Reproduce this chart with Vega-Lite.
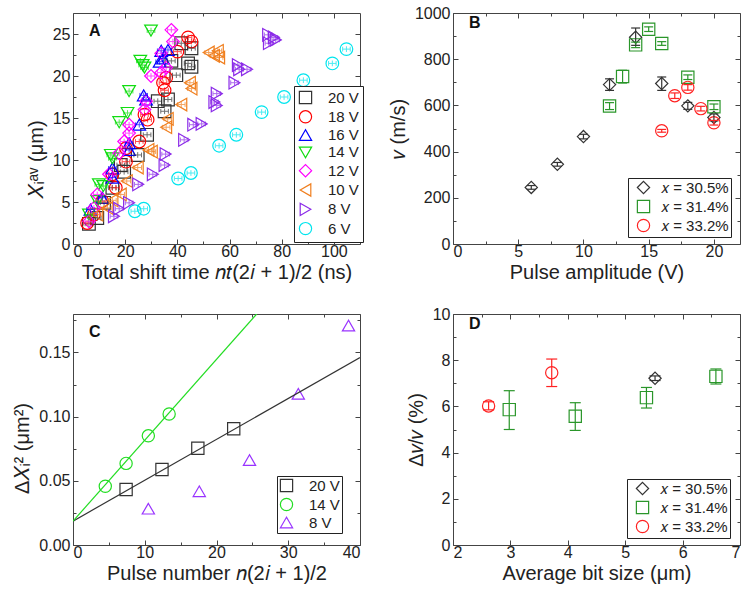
{
 "$schema": "https://vega.github.io/schema/vega-lite/v6.json",
 "background": "white",
 "padding": {"left": 12, "top": 4, "right": 2, "bottom": 2},
 "columns": 2,
 "spacing": {"row": 70, "column": 93},
 "bounds": "flush",
 "resolve": {"scale": {"x": "independent", "y": "independent", "color": "independent", "shape": "independent", "stroke": "independent"}, "legend": {"color": "independent", "shape": "independent"}},
 "config": {
  "font": "Liberation Sans",
  "view": {"stroke": "#444", "strokeWidth": 1},
  "axis": {"grid": false, "domain": false, "tickColor": "#444", "tickWidth": 1, "labelFontSize": 16, "labelColor": "#222", "labelFont": "Liberation Sans", "titleFont": "Liberation Sans", "titleFontSize": 20, "titleFontWeight": "normal", "titleColor": "#222", "labelPadding": 4, "titlePadding": 3},
  "axisLeft": {"labelPadding": 8, "titlePadding": 6},
  "legend": {"orient": "none", "strokeColor": "#222", "fillColor": "white", "padding": 4, "rowPadding": 0.3, "labelFontSize": 15, "labelFont": "Liberation Sans", "labelColor": "#222", "symbolSize": 150, "symbolStrokeWidth": 1.2, "labelOffset": 15, "title": null},
  "title": {"anchor": "start", "frame": "group", "fontSize": 16, "fontWeight": "bold", "font": "Liberation Sans", "offset": -26, "dx": 16, "color": "#111"}
 },
 "datasets": {
  "A": [
   {"V":"20 V","t":41.5,"x":23.9},{"V":"20 V","t":45.4,"x":23.3},{"V":"20 V","t":44.1,"x":21.5},{"V":"20 V","t":45.4,"x":21.1},{"V":"20 V","t":37.7,"x":21.8},{"V":"20 V","t":39.6,"x":20.1},{"V":"20 V","t":32.5,"x":17.0},{"V":"20 V","t":36.4,"x":17.2},{"V":"20 V","t":35.1,"x":15.8},{"V":"20 V","t":28.4,"x":13.0},{"V":"20 V","t":24.8,"x":10.6},{"V":"20 V","t":19.6,"x":8.6},{"V":"20 V","t":18.3,"x":9.4},{"V":"20 V","t":15.1,"x":6.7},{"V":"20 V","t":11.9,"x":4.9},{"V":"20 V","t":9.3,"x":3.1},{"V":"20 V","t":6.1,"x":2.4},
   {"V":"18 V","t":44.1,"x":24.6},{"V":"18 V","t":45.4,"x":24.1},{"V":"18 V","t":40.0,"x":22.9},{"V":"18 V","t":34.5,"x":19.2},{"V":"18 V","t":35.7,"x":19.8},{"V":"18 V","t":35.1,"x":18.3},{"V":"18 V","t":27.4,"x":15.4},{"V":"18 V","t":28.6,"x":14.8},{"V":"18 V","t":25.4,"x":12.2},{"V":"18 V","t":20.3,"x":11.4},{"V":"18 V","t":20.3,"x":9.8},{"V":"18 V","t":15.1,"x":8.3},{"V":"18 V","t":16.4,"x":6.7},{"V":"18 V","t":11.2,"x":5.1},{"V":"18 V","t":8.0,"x":3.5},{"V":"18 V","t":5.4,"x":2.5},
   {"V":"16 V","t":33.8,"x":23.0},{"V":"16 V","t":36.4,"x":23.1},{"V":"16 V","t":33.2,"x":21.7},{"V":"16 V","t":34.5,"x":22.1},{"V":"16 V","t":27.1,"x":17.7},{"V":"16 V","t":28.0,"x":17.2},{"V":"16 V","t":25.4,"x":14.2},{"V":"16 V","t":21.5,"x":12.0},{"V":"16 V","t":21.5,"x":11.2},{"V":"16 V","t":15.1,"x":9.0},{"V":"16 V","t":15.1,"x":7.9},{"V":"16 V","t":11.2,"x":5.5},{"V":"16 V","t":6.7,"x":4.1},
   {"V":"14 V","t":29.9,"x":25.4},{"V":"14 V","t":25.8,"x":21.8},{"V":"14 V","t":26.7,"x":21.3},{"V":"14 V","t":27.4,"x":21.0},{"V":"14 V","t":21.5,"x":18.2},{"V":"14 V","t":20.9,"x":15.6},{"V":"14 V","t":17.7,"x":14.5},{"V":"14 V","t":14.5,"x":10.6},{"V":"14 V","t":15.1,"x":10.2},{"V":"14 V","t":9.9,"x":7.1},{"V":"14 V","t":11.6,"x":6.9},{"V":"14 V","t":9.3,"x":5.1},{"V":"14 V","t":6.1,"x":3.5},
   {"V":"12 V","t":37.7,"x":25.5},{"V":"12 V","t":38.3,"x":24.1},{"V":"12 V","t":33.8,"x":22.7},{"V":"12 V","t":35.7,"x":21.0},{"V":"12 V","t":29.9,"x":20.0},{"V":"12 V","t":33.8,"x":20.4},{"V":"12 V","t":28.0,"x":17.0},{"V":"12 V","t":27.4,"x":16.0},{"V":"12 V","t":21.5,"x":14.2},{"V":"12 V","t":21.5,"x":13.2},{"V":"12 V","t":19.6,"x":12.2},{"V":"12 V","t":17.7,"x":10.8},{"V":"12 V","t":13.8,"x":8.3},{"V":"12 V","t":9.3,"x":5.9},{"V":"12 V","t":8.0,"x":4.3},{"V":"12 V","t":6.1,"x":2.7},
   {"V":"10 V","t":52.0,"x":22.8},{"V":"10 V","t":54.0,"x":22.4},{"V":"10 V","t":55.5,"x":23.0},{"V":"10 V","t":56.0,"x":22.2},{"V":"10 V","t":44.8,"x":19.2},{"V":"10 V","t":45.4,"x":18.5},{"V":"10 V","t":41.5,"x":16.6},{"V":"10 V","t":36.3,"x":14.9},{"V":"10 V","t":35.7,"x":13.9},{"V":"10 V","t":28.9,"x":11.2},{"V":"10 V","t":30.2,"x":11.0},{"V":"10 V","t":24.8,"x":9.1},{"V":"10 V","t":20.6,"x":7.5},{"V":"10 V","t":18.3,"x":5.9},{"V":"10 V","t":15.1,"x":5.2},{"V":"10 V","t":13.2,"x":4.3},{"V":"10 V","t":9.3,"x":3.5},
   {"V":"8 V","t":74.8,"x":24.9},{"V":"8 V","t":77.0,"x":24.6},{"V":"8 V","t":77.7,"x":24.3},{"V":"8 V","t":75.1,"x":23.9},{"V":"8 V","t":63.2,"x":21.3},{"V":"8 V","t":63.7,"x":20.8},{"V":"8 V","t":66.7,"x":20.8},{"V":"8 V","t":61.9,"x":19.2},{"V":"8 V","t":55.1,"x":17.9},{"V":"8 V","t":54.2,"x":16.9},{"V":"8 V","t":55.1,"x":16.5},{"V":"8 V","t":46.1,"x":14.2},{"V":"8 V","t":49.3,"x":14.3},{"V":"8 V","t":42.6,"x":12.4},{"V":"8 V","t":35.5,"x":10.7},{"V":"8 V","t":35.1,"x":9.4},{"V":"8 V","t":30.6,"x":8.3},{"V":"8 V","t":25.0,"x":7.1},{"V":"8 V","t":21.5,"x":4.9},{"V":"8 V","t":17.7,"x":4.2},{"V":"8 V","t":15.7,"x":3.3},
   {"V":"6 V","t":23.7,"x":3.9},{"V":"6 V","t":27.1,"x":4.2},{"V":"6 V","t":40.3,"x":7.8},{"V":"6 V","t":45.2,"x":8.45},{"V":"6 V","t":56.0,"x":11.7},{"V":"6 V","t":62.6,"x":13.0},{"V":"6 V","t":72.3,"x":15.7},{"V":"6 V","t":80.9,"x":17.5},{"V":"6 V","t":88.3,"x":19.5},{"V":"6 V","t":99.4,"x":21.5},{"V":"6 V","t":104.8,"x":23.2}
  ],
  "B": [
   {"s":"𝑥 = 30.5%","U":6,"v":245,"lo":237,"hi":253},{"s":"𝑥 = 30.5%","U":8,"v":345,"lo":337,"hi":353},{"s":"𝑥 = 30.5%","U":10,"v":465,"lo":455,"hi":475},{"s":"𝑥 = 30.5%","U":12,"v":690,"lo":665,"hi":715},{"s":"𝑥 = 30.5%","U":14,"v":895,"lo":860,"hi":935},{"s":"𝑥 = 30.5%","U":16,"v":695,"lo":665,"hi":723},{"s":"𝑥 = 30.5%","U":18,"v":598,"lo":583,"hi":613},{"s":"𝑥 = 30.5%","U":20,"v":548,"lo":533,"hi":563},
   {"s":"𝑥 = 31.4%","U":12,"v":597,"lo":582,"hi":612},{"s":"𝑥 = 31.4%","U":13,"v":725,"lo":697,"hi":752},{"s":"𝑥 = 31.4%","U":14,"v":862,"lo":850,"hi":874},{"s":"𝑥 = 31.4%","U":15,"v":930,"lo":920,"hi":940},{"s":"𝑥 = 31.4%","U":16,"v":868,"lo":860,"hi":876},{"s":"𝑥 = 31.4%","U":18,"v":722,"lo":712,"hi":732},{"s":"𝑥 = 31.4%","U":20,"v":594,"lo":582,"hi":606},
   {"s":"𝑥 = 33.2%","U":16,"v":490,"lo":484,"hi":496},{"s":"𝑥 = 33.2%","U":17,"v":642,"lo":630,"hi":654},{"s":"𝑥 = 33.2%","U":18,"v":678,"lo":666,"hi":690},{"s":"𝑥 = 33.2%","U":19,"v":586,"lo":576,"hi":596},{"s":"𝑥 = 33.2%","U":20,"v":525,"lo":515,"hi":535}
  ],
  "C": [
   {"W":"20 V","n":7.4,"d":0.0432},{"W":"20 V","n":12.4,"d":0.0589},{"W":"20 V","n":17.4,"d":0.0754},{"W":"20 V","n":22.4,"d":0.0906},
   {"W":"14 V","n":4.5,"d":0.0458},{"W":"14 V","n":7.4,"d":0.0636},{"W":"14 V","n":10.5,"d":0.0851},{"W":"14 V","n":13.4,"d":0.1021},
   {"W":"8 V","n":10.5,"d":0.0283},{"W":"8 V","n":17.6,"d":0.0419},{"W":"8 V","n":24.6,"d":0.0662},{"W":"8 V","n":31.4,"d":0.1178},{"W":"8 V","n":38.4,"d":0.171}
  ],
  "Cfit": [
   {"W":"20 V","n":0,"d":0.0186},{"W":"20 V","n":40,"d":0.146},
   {"W":"14 V","n":0,"d":0.0186},{"W":"14 V","n":25.6,"d":0.18}
  ],
  "D": [
   {"s":"𝑥 = 30.5%","b":5.52,"r":7.22,"lo":7.12,"hi":7.32},
   {"s":"𝑥 = 31.4%","b":2.98,"r":5.86,"lo":5.0,"hi":6.68},{"s":"𝑥 = 31.4%","b":4.13,"r":5.57,"lo":4.96,"hi":6.16},{"s":"𝑥 = 31.4%","b":5.37,"r":6.38,"lo":5.93,"hi":6.82},{"s":"𝑥 = 31.4%","b":6.58,"r":7.30,"lo":6.97,"hi":7.62},
   {"s":"𝑥 = 33.2%","b":2.62,"r":6.02,"lo":5.85,"hi":6.2},{"s":"𝑥 = 33.2%","b":3.72,"r":7.46,"lo":6.86,"hi":8.05}
  ]
 },
 "concat": [
  {
   "width": 287, "height": 231,
   "title": {"text": "A"},
   "data": {"name": "A"},
   "resolve": {"axis": {"x": "independent", "y": "independent"}},
   "layer": [
    {
     "mark": {"type": "point", "filled": false, "strokeWidth": 1.2, "size": 160, "opacity": 1},
     "encoding": {
      "x": {"field": "t", "type": "quantitative", "scale": {"domain": [0, 110], "nice": false, "zero": false}, "axis": {"orient": "bottom", "values": [0,10,20,30,40,50,60,70,80,90,100], "format": "d", "labelExpr": "datum.value % 20 === 0 ? datum.label : ''", "tickSize": {"condition": {"test": "datum.value % 20 !== 0", "value": -3}, "value": -5}, "title": "Total shift time 𝑛𝑡(2𝑖 + 1)/2 (ns)"}},
      "y": {"field": "x", "type": "quantitative", "scale": {"domain": [0, 27.5], "nice": false, "zero": false}, "axis": {"orient": "left", "values": [0,2.5,5,7.5,10,12.5,15,17.5,20,22.5,25], "format": "d", "labelExpr": "datum.value % 5 === 0 ? datum.label : ''", "tickSize": {"condition": {"test": "datum.value % 5 !== 0", "value": -3}, "value": -5}, "title": "𝑋ᵢᵃᵛ (μm)", "titleY": 146}},
      "color": {"field": "V", "type": "nominal", "scale": {"domain": ["20 V","18 V","16 V","14 V","12 V","10 V","8 V","6 V"], "range": ["#333333","#ff0000","#0000ff","#11dd11","#ff00ff","#f07f1e","#8b2be8","#00e5ee"]}, "legend": {"legendX": 221, "legendY": 73}},
      "shape": {"field": "V", "type": "nominal", "scale": {"domain": ["20 V","18 V","16 V","14 V","12 V","10 V","8 V","6 V"], "range": ["square","circle","triangle-up","triangle-down","diamond","triangle-left","triangle-right","circle"]}, "legend": {"legendX": 221, "legendY": 73}}
     }
    },
    {
     "mark": {"type": "point", "filled": false, "strokeWidth": 1, "size": 90, "shape": "M-0.8,0H0.8M-0.8,-0.5V0.5M0.8,-0.5V0.5M0,-0.6V0.6"},
     "encoding": {
      "x": {"field": "t", "type": "quantitative", "axis": null},
      "y": {"field": "x", "type": "quantitative", "axis": null},
      "color": {"field": "V", "type": "nominal", "legend": null}
     }
    },
    {
     "mark": {"type": "point", "opacity": 0},
     "encoding": {
      "x": {"field": "t", "type": "quantitative", "axis": {"orient": "top", "values": [0,10,20,30,40,50,60,70,80,90,100], "labels": false, "title": null, "tickSize": {"condition": {"test": "datum.value % 20 !== 0", "value": -3}, "value": -5}}},
      "y": {"field": "x", "type": "quantitative", "axis": {"orient": "right", "values": [0,2.5,5,7.5,10,12.5,15,17.5,20,22.5,25], "labels": false, "title": null, "tickSize": {"condition": {"test": "datum.value % 5 !== 0", "value": -3}, "value": -5}}}
     }
    }
   ]
  },
  {
   "width": 287, "height": 231,
   "title": {"text": "B"},
   "data": {"name": "B"},
   "resolve": {"axis": {"x": "independent", "y": "independent"}},
   "layer": [
    {
     "mark": {"type": "point", "filled": false, "strokeWidth": 1.2, "size": 150, "opacity": 1},
     "encoding": {
      "x": {"field": "U", "type": "quantitative", "scale": {"domain": [0, 22], "nice": false, "zero": false}, "axis": {"orient": "bottom", "values": [0,2.5,5,7.5,10,12.5,15,17.5,20], "format": "d", "labelExpr": "datum.value % 5 === 0 ? datum.label : ''", "tickSize": {"condition": {"test": "datum.value % 5 !== 0", "value": -3}, "value": -5}, "title": "Pulse amplitude (V)"}},
      "y": {"field": "v", "type": "quantitative", "scale": {"domain": [0, 1000], "nice": false, "zero": false}, "axis": {"orient": "left", "values": [0,100,200,300,400,500,600,700,800,900,1000], "format": "d", "labelExpr": "datum.value % 200 === 0 ? datum.label : ''", "tickSize": {"condition": {"test": "datum.value % 200 !== 0", "value": -3}, "value": -5}, "title": "𝑣 (m/s)"}},
      "color": {"field": "s", "type": "nominal", "scale": {"domain": ["𝑥 = 30.5%","𝑥 = 31.4%","𝑥 = 33.2%"], "range": ["#333333","#2a962a","#ff2222"]}, "legend": {"legendX": 175, "legendY": 165, "rowPadding": 0, "padding": 2, "symbolOffset": 6, "labelOffset": 10}},
      "shape": {"field": "s", "type": "nominal", "scale": {"domain": ["𝑥 = 30.5%","𝑥 = 31.4%","𝑥 = 33.2%"], "range": ["diamond","square","circle"]}, "legend": {"legendX": 175, "legendY": 165, "rowPadding": 0, "padding": 2, "symbolOffset": 6, "labelOffset": 10}}
     }
    },
    {
     "mark": {"type": "rule", "strokeWidth": 1.2},
     "encoding": {
      "x": {"field": "U", "type": "quantitative", "axis": null},
      "y": {"field": "lo", "type": "quantitative", "axis": null},
      "y2": {"field": "hi"},
      "stroke": {"field": "s", "type": "nominal", "scale": {"domain": ["𝑥 = 30.5%","𝑥 = 31.4%","𝑥 = 33.2%"], "range": ["#333333","#2a962a","#ff2222"]}, "legend": null}
     }
    },
    {
     "mark": {"type": "point", "filled": false, "shape": "M-1,0H1", "size": 81, "strokeWidth": 1.2, "opacity": 1},
     "encoding": {
      "x": {"field": "U", "type": "quantitative", "axis": null},
      "y": {"field": "lo", "type": "quantitative", "axis": null},
      "stroke": {"field": "s", "type": "nominal", "legend": null}
     }
    },
    {
     "mark": {"type": "point", "filled": false, "shape": "M-1,0H1", "size": 81, "strokeWidth": 1.2, "opacity": 1},
     "encoding": {
      "x": {"field": "U", "type": "quantitative", "axis": null},
      "y": {"field": "hi", "type": "quantitative", "axis": null},
      "stroke": {"field": "s", "type": "nominal", "legend": null}
     }
    },
    {
     "mark": {"type": "point", "opacity": 0},
     "encoding": {
      "x": {"field": "U", "type": "quantitative", "axis": {"orient": "top", "values": [0,2.5,5,7.5,10,12.5,15,17.5,20], "labels": false, "title": null, "tickSize": {"condition": {"test": "datum.value % 5 !== 0", "value": -3}, "value": -5}}},
      "y": {"field": "v", "type": "quantitative", "axis": {"orient": "right", "values": [0,100,200,300,400,500,600,700,800,900,1000], "labels": false, "title": null, "tickSize": {"condition": {"test": "datum.value % 200 !== 0", "value": -3}, "value": -5}}}
     }
    }
   ]
  },
  {
   "width": 287, "height": 231,
   "title": {"text": "C"},
   "resolve": {"axis": {"x": "independent", "y": "independent"}},
   "layer": [
    {
     "data": {"name": "C"},
     "mark": {"type": "point", "filled": false, "strokeWidth": 1.2, "size": 150, "opacity": 1},
     "encoding": {
      "x": {"field": "n", "type": "quantitative", "scale": {"domain": [0, 40], "nice": false, "zero": false}, "axis": {"orient": "bottom", "values": [0,5,10,15,20,25,30,35,40], "format": "d", "labelExpr": "datum.value % 10 === 0 ? datum.label : ''", "tickSize": {"condition": {"test": "datum.value % 10 !== 0", "value": -3}, "value": -5}, "title": "Pulse number 𝑛(2𝑖 + 1)/2"}},
      "y": {"field": "d", "type": "quantitative", "scale": {"domain": [0, 0.18], "nice": false, "zero": false}, "axis": {"orient": "left", "values": [0,0.025,0.05,0.075,0.1,0.125,0.15,0.175], "labelExpr": "abs(datum.value*20 - round(datum.value*20)) < 0.001 ? format(datum.value, '.2f') : ''", "tickSize": {"condition": {"test": "abs(datum.value*20 - round(datum.value*20)) > 0.001", "value": -3}, "value": -5}, "title": "Δ𝑋ᵢ² (μm²)", "titleY": 134}},
      "color": {"field": "W", "type": "nominal", "scale": {"domain": ["20 V","14 V","8 V"], "range": ["#333333","#22dd22","#9933ff"]}, "legend": {"legendX": 204, "legendY": 162, "rowPadding": 0, "padding": 2}},
      "shape": {"field": "W", "type": "nominal", "scale": {"domain": ["20 V","14 V","8 V"], "range": ["square","circle","triangle-up"]}, "legend": {"legendX": 204, "legendY": 162, "rowPadding": 0, "padding": 2}}
     }
    },
    {
     "data": {"name": "Cfit"},
     "mark": {"type": "line", "strokeWidth": 1.2, "clip": true},
     "encoding": {
      "x": {"field": "n", "type": "quantitative", "axis": null},
      "y": {"field": "d", "type": "quantitative", "axis": null},
      "color": {"field": "W", "type": "nominal", "legend": null}
     }
    },
    {
     "data": {"name": "C"},
     "mark": {"type": "point", "opacity": 0},
     "encoding": {
      "x": {"field": "n", "type": "quantitative", "axis": {"orient": "top", "values": [0,5,10,15,20,25,30,35,40], "labels": false, "title": null, "tickSize": {"condition": {"test": "datum.value % 10 !== 0", "value": -3}, "value": -5}}},
      "y": {"field": "d", "type": "quantitative", "axis": {"orient": "right", "values": [0,0.025,0.05,0.075,0.1,0.125,0.15,0.175], "labels": false, "title": null, "tickSize": {"condition": {"test": "abs(datum.value*20 - round(datum.value*20)) > 0.001", "value": -3}, "value": -5}}}
     }
    }
   ]
  },
  {
   "width": 287, "height": 231,
   "title": {"text": "D"},
   "data": {"name": "D"},
   "resolve": {"axis": {"x": "independent", "y": "independent"}},
   "layer": [
    {
     "mark": {"type": "point", "filled": false, "strokeWidth": 1.2, "size": 150, "opacity": 1},
     "encoding": {
      "x": {"field": "b", "type": "quantitative", "scale": {"domain": [2, 7], "nice": false, "zero": false}, "axis": {"orient": "bottom", "values": [2,2.5,3,3.5,4,4.5,5,5.5,6,6.5,7], "format": "d", "labelExpr": "datum.value % 1 === 0 ? datum.label : ''", "tickSize": {"condition": {"test": "datum.value % 1 !== 0", "value": -3}, "value": -5}, "title": "Average bit size (μm)"}},
      "y": {"field": "r", "type": "quantitative", "scale": {"domain": [0, 10], "nice": false, "zero": false}, "axis": {"orient": "left", "values": [0,1,2,3,4,5,6,7,8,9,10], "format": "d", "labelExpr": "datum.value % 2 === 0 ? datum.label : ''", "tickSize": {"condition": {"test": "datum.value % 2 !== 0", "value": -3}, "value": -5}, "title": "Δ𝑣/𝑣 (%)"}},
      "color": {"field": "s", "type": "nominal", "scale": {"domain": ["𝑥 = 30.5%","𝑥 = 31.4%","𝑥 = 33.2%"], "range": ["#333333","#2a962a","#ff2222"]}, "legend": {"legendX": 174, "legendY": 165, "rowPadding": 0, "padding": 2, "symbolOffset": 6, "labelOffset": 10}},
      "shape": {"field": "s", "type": "nominal", "scale": {"domain": ["𝑥 = 30.5%","𝑥 = 31.4%","𝑥 = 33.2%"], "range": ["diamond","square","circle"]}, "legend": {"legendX": 174, "legendY": 165, "rowPadding": 0, "padding": 2, "symbolOffset": 6, "labelOffset": 10}}
     }
    },
    {
     "mark": {"type": "rule", "strokeWidth": 1.2},
     "encoding": {
      "x": {"field": "b", "type": "quantitative", "axis": null},
      "y": {"field": "lo", "type": "quantitative", "axis": null},
      "y2": {"field": "hi"},
      "stroke": {"field": "s", "type": "nominal", "scale": {"domain": ["𝑥 = 30.5%","𝑥 = 31.4%","𝑥 = 33.2%"], "range": ["#333333","#2a962a","#ff2222"]}, "legend": null}
     }
    },
    {
     "mark": {"type": "point", "filled": false, "shape": "M-1,0H1", "size": 121, "strokeWidth": 1.2, "opacity": 1},
     "encoding": {
      "x": {"field": "b", "type": "quantitative", "axis": null},
      "y": {"field": "lo", "type": "quantitative", "axis": null},
      "stroke": {"field": "s", "type": "nominal", "legend": null}
     }
    },
    {
     "mark": {"type": "point", "filled": false, "shape": "M-1,0H1", "size": 121, "strokeWidth": 1.2, "opacity": 1},
     "encoding": {
      "x": {"field": "b", "type": "quantitative", "axis": null},
      "y": {"field": "hi", "type": "quantitative", "axis": null},
      "stroke": {"field": "s", "type": "nominal", "legend": null}
     }
    },
    {
     "mark": {"type": "point", "opacity": 0},
     "encoding": {
      "x": {"field": "b", "type": "quantitative", "axis": {"orient": "top", "values": [2,2.5,3,3.5,4,4.5,5,5.5,6,6.5,7], "labels": false, "title": null, "tickSize": {"condition": {"test": "datum.value % 1 !== 0", "value": -3}, "value": -5}}},
      "y": {"field": "r", "type": "quantitative", "axis": {"orient": "right", "values": [0,1,2,3,4,5,6,7,8,9,10], "labels": false, "title": null, "tickSize": {"condition": {"test": "datum.value % 2 !== 0", "value": -3}, "value": -5}}}
     }
    }
   ]
  }
 ]
}
